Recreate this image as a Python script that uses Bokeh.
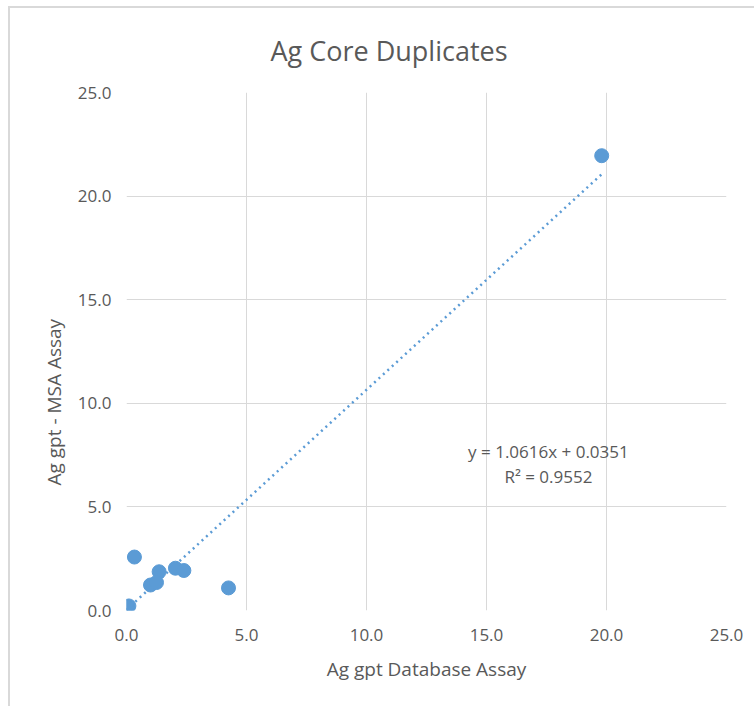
import numpy as np
from bokeh.plotting import figure
from bokeh.models import Label, FixedTicker, CustomJSTickFormatter, Range1d, Title
from bokeh.embed import file_html
from bokeh.resources import INLINE

# Data
db_assay = [19.8, 0.33, 4.25, 1.36, 2.04, 2.39, 1.00, 1.25, 0.10, 0.00]
msa_assay = [21.95, 2.58, 1.09, 1.87, 2.04, 1.93, 1.23, 1.35, 0.22, 0.18]
slope = 1.0616
intercept = 0.0351
r_squared = 0.9552
ticks = [0, 5, 10, 15, 20, 25]

TXT = "#595959"
BLUE = "#5b9bd5"
GRID = "#d9d9d9"
FONT = "Open Sans"

p = figure(width=746, height=700, output_backend="svg", toolbar_location=None,
           x_range=Range1d(0, 25), y_range=Range1d(0, 25),
           min_border_left=116, min_border_right=30, min_border_top=84, min_border_bottom=98)
p.styles = {"border-left": "2px solid #d9d9d9", "border-top": "2px solid #d9d9d9",
            "margin-left": "8px", "margin-top": "6px"}
p.outline_line_color = None
p.background_fill_color = "white"

p.title.text = "Ag Core Duplicates"
p.title.text_font = FONT
p.title.text_font_size = "27px"
p.title.text_font_style = "normal"
p.title.text_color = TXT
p.title.align = "left"
p.title.offset = 144
p.title.standoff = 44
p.title.vertical_align = "top"

p.add_layout(Title(text="Ag gpt - MSA Assay", text_font=FONT, text_font_size="19px",
                   text_font_style="normal", text_color=TXT, align="left",
                   offset=125, standoff=16), "left")

for ax in (p.xaxis, p.yaxis):
    ax.ticker = FixedTicker(ticks=ticks)
    ax.formatter = CustomJSTickFormatter(code="return tick.toFixed(1);")
    ax.axis_line_color = None
    ax.major_tick_line_color = None
    ax.minor_tick_line_color = None
    ax.major_label_text_font = FONT
    ax.major_label_text_font_size = "17px"
    ax.major_label_text_color = TXT

p.xaxis.major_label_standoff = 12
p.yaxis.major_label_standoff = 9
p.xaxis.axis_label = "Ag gpt Database Assay"
p.xaxis.axis_label_text_font = FONT
p.xaxis.axis_label_text_font_size = "19px"
p.xaxis.axis_label_text_font_style = "normal"
p.xaxis.axis_label_text_color = TXT
p.xaxis.axis_label_standoff = 12

p.xgrid.grid_line_color = GRID
p.ygrid.grid_line_color = GRID
p.xgrid.ticker = FixedTicker(ticks=ticks)
p.ygrid.ticker = FixedTicker(ticks=ticks)

# trendline
xs = np.array([min(db_assay), max(db_assay)])
ys = slope * xs + intercept
p.line(xs, ys, line_color=BLUE, line_width=2.5, line_dash="2 4")

p.scatter(db_assay, msa_assay, size=14, fill_color=BLUE, line_color=BLUE)

p.add_layout(Label(x=17.58, y=7.65, text=f"y = {slope:.4f}x + {intercept:.4f}", text_font=FONT,
                   text_font_size="17px", text_color=TXT, text_align="center",
                   text_baseline="middle"))
p.add_layout(Label(x=17.58, y=6.45, text=f"R² = {r_squared:.4f}", text_font=FONT,
                   text_font_size="17px", text_color=TXT, text_align="center",
                   text_baseline="middle"))

open("out.html", "w").write(file_html(p, INLINE))
